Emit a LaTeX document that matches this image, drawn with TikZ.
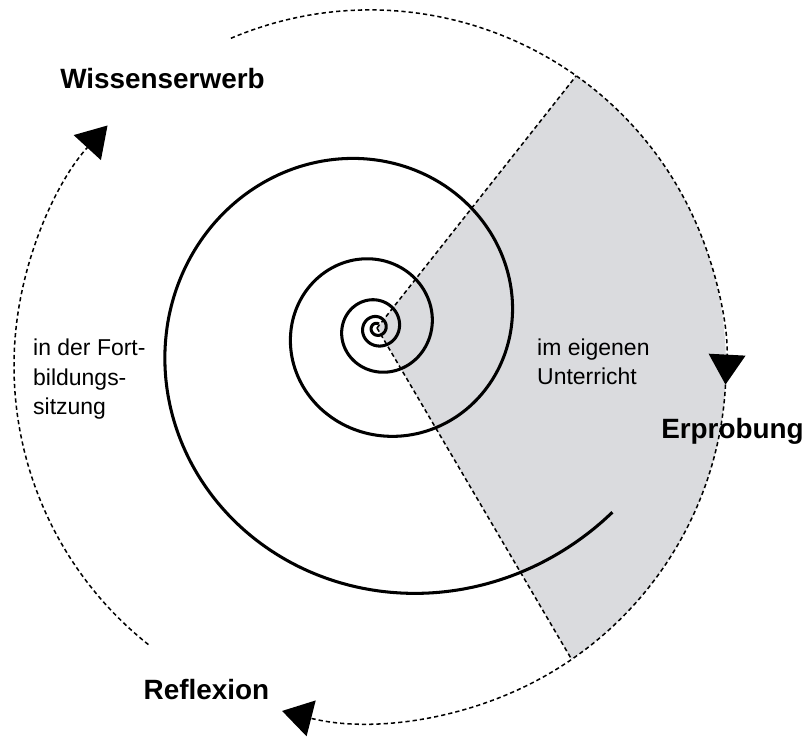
\documentclass[tikz,border=0pt]{standalone}
\usepackage{fontspec}
\setmainfont{Liberation Sans}
\usetikzlibrary{arrows.meta}
\definecolor{sectorgray}{RGB}{218,219,222}
\tikzset{
  dashline/.style={line width=1.3pt, dash pattern=on 3.6pt off 2.6pt},
  cyclearrow/.style={-{Triangle[length=0.9cm,width=1.1cm]}},
  spiralline/.style={line width=2.6pt},
  phase/.style={font=\fontsize{23.8}{28}\selectfont\bfseries, inner sep=0pt, anchor=base},
  place/.style={font=\fontsize{19.6}{25.2}\selectfont, align=left, inner sep=0pt, anchor=north west}
}
\begin{document}
\begin{tikzpicture}[x=0.03cm, y=0.03cm]
    \useasboundingbox (-370,-371) rectangle (438,366);
    \coordinate (mitte) at (7,38);
    \fill[sectorgray] (mitte) -- (54.6:356) arc[start angle=54.6, end angle=-55.5, radius=356] -- cycle;
    \draw[dashline] (mitte) -- (54.6:356);
    \draw[dashline] (mitte) -- (-55.5:356);
    \draw[dashline, cyclearrow] (113:356) arc[start angle=113, end angle=-3, radius=356];
    \draw[dashline, cyclearrow] (-3:356) arc[start angle=-3, end angle=-104.3, radius=356];
    \draw[dashline, cyclearrow] (231.5:356) arc[start angle=231.5, end angle=137.5, radius=356];
    \draw[spiralline] plot[domain=-24:5.62, samples=700, smooth, variable=\t]
      ({7+210*exp(0.1426*(\t-pi))*cos(\t r)}, {38+210*exp(0.1426*(\t-pi))*sin(\t r)});
    \node[phase] (wissen) at (-207.5,277) {Wissenserwerb};
    \node[phase] (erprobung) at (362.5,-73) {Erprobung};
    \node[phase] (reflexion) at (-163.5,-333) {Reflexion};
    \node[place] (fortbildung) at (-337,27) {in der Fort-\\bildungs-\\sitzung};
    \node[place] (unterricht) at (167,27.5) {im eigenen\\Unterricht};
  \end{tikzpicture}
\end{document}
